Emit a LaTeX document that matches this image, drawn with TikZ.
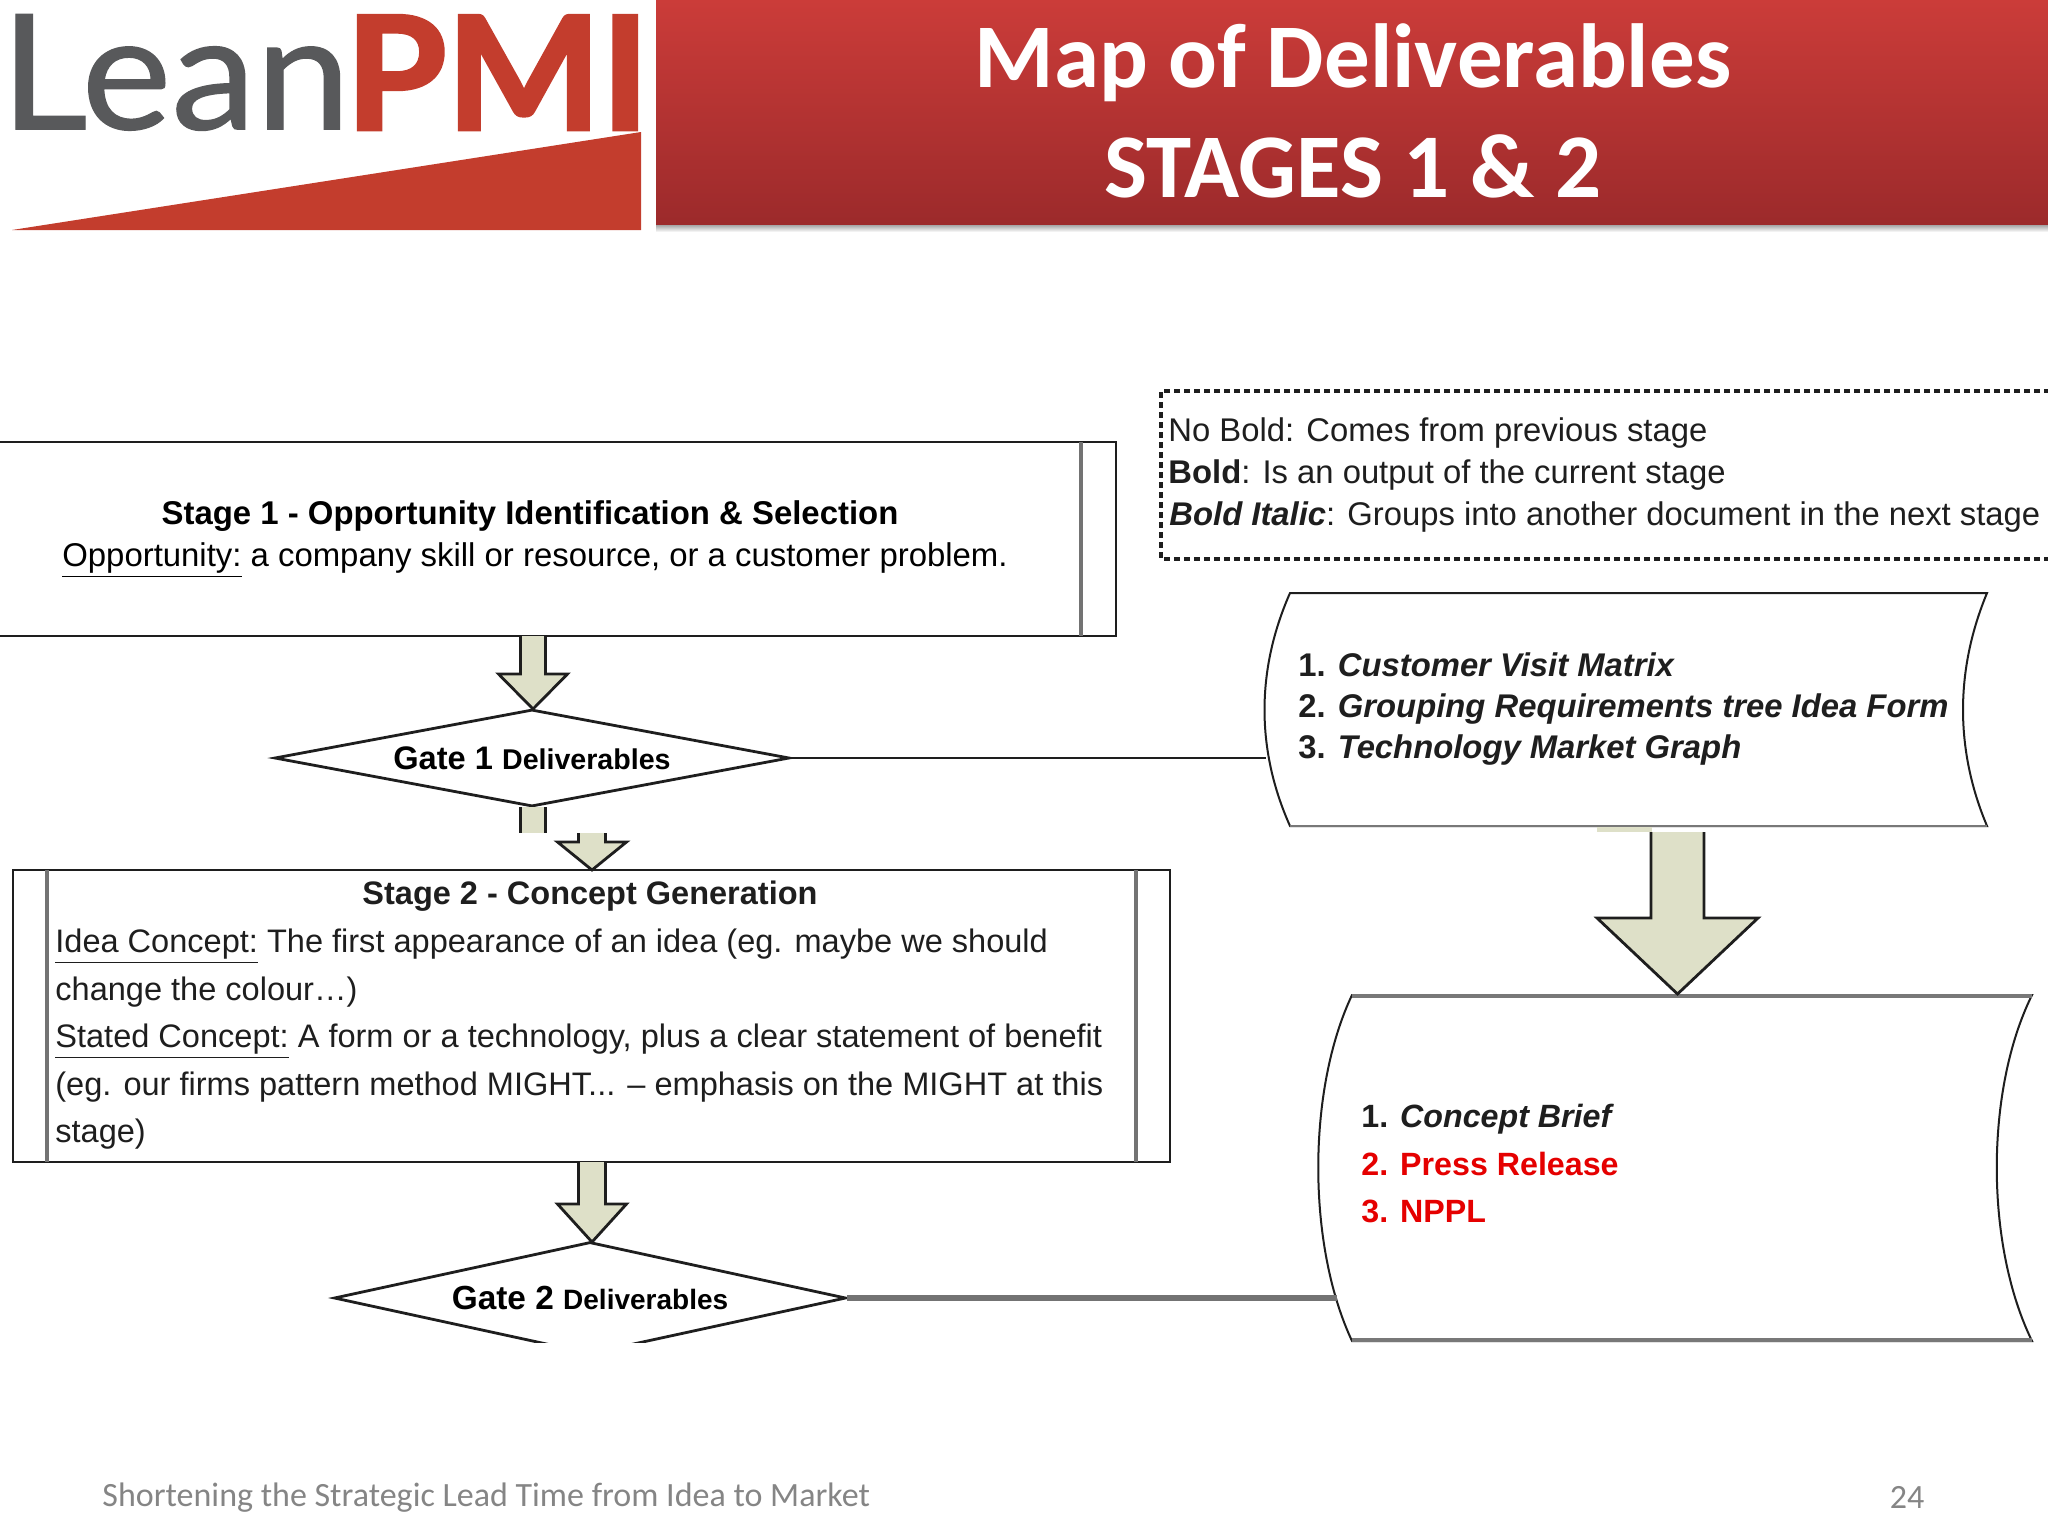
\documentclass[tikz,border=0pt]{standalone}
\usepackage{fontspec}
\setmainfont{Liberation Sans}
\newfontfamily\carlito{Carlito}
\newfontfamily\logofont[FakeBold=0.8]{Lato}
\newfontfamily\logoheavy[BoldFeatures={FakeBold=2.2}]{Lato}
\usetikzlibrary{shapes.geometric}
\definecolor{arrowfill}{HTML}{DEE0C8}
\definecolor{logored}{HTML}{C33D2D}
\definecolor{logogray}{HTML}{58595B}
\definecolor{ink}{HTML}{1E1E1E}
\definecolor{bannertop}{HTML}{CB3C39}
\definecolor{bannerbot}{HTML}{9C2A2B}
\newcommand{\fs}[1]{\fontsize{#1}{#1}\selectfont}
% x-centre, shaft half-width, head half-width, top, head top, tip
\newcommand{\blockarrow}[6]{%
  \draw[blockarrow] (#1-#2,#4) -- (#1-#2,#5) -- (#1-#3,#5) -- (#1,#6) -- (#1+#3,#5) -- (#1+#2,#5) -- (#1+#2,#4);}
\tikzset{
  blockarrow/.style={fill=arrowfill,draw=ink,line width=1.4pt,line join=miter},
  stagebox/.style={draw=ink,line width=1.3pt,rectangle,inner sep=0pt,fill=white},
  bar/.style={draw=black!55,line width=2.2pt},
  gate/.style={draw=ink,diamond,line width=1.4pt,fill=white,inner sep=0pt,aspect=5,font=\bfseries},
  docline/.style={draw=ink,line width=1pt,fill=white},
  txt/.style={inner sep=0pt,text=ink},
  foot/.style={inner sep=0pt,text=black!48,font=\carlito\fs{17}},
}
\begin{document}
\begin{tikzpicture}[x=0.5pt,y=-0.5pt]
\useasboundingbox (0,0) rectangle (2048,1536);
\clip (0,0) rectangle (2048,1536);
% banner
\shade[top color=black!40,bottom color=white] (656,224) rectangle (2048,232);
\shade[top color=bannertop,bottom color=bannerbot] (656,0) rectangle (2048,224);
\node[inner sep=0pt,text=white,font=\carlito\bfseries\fs{45.5},anchor=base] (title1) at (1353,88) {Map of Deliverables};
\node[inner sep=0pt,text=white,font=\carlito\bfseries\fs{45.5},anchor=base] (title2) at (1353,197) {STAGES 1 \& 2};
% logo
\node[inner sep=0pt,anchor=south west,text=logogray] (lean) at (0,131) {\resizebox{175pt}{57.5pt}{\logofont Lean}};
\node[inner sep=0pt,anchor=south west,text=logored] (pmi) at (345,130) {\resizebox{152pt}{57pt}{\logoheavy\bfseries PMI}};
\fill[logored] (12,230) -- (641,132) -- (641,230) -- cycle;
% legend
\draw[ink,line width=1.9pt,densely dashed] (2060,391) -- (1161,391) -- (1161,559) -- (2060,559);
\node[txt,anchor=base west,font=\fs{16.4}] (leg1) at (1168,441) {No Bold: Comes from previous stage};
\node[txt,anchor=base west,font=\fs{16.4}] (leg2) at (1168,483) {\textbf{Bold}: Is an output of the current stage};
\node[txt,anchor=base west,font=\fs{16.4}] (leg3) at (1169,525) {\textbf{\textit{Bold Italic}}: Groups into another document in the next stage};
% stage 1
\node[stagebox,minimum width=586pt,minimum height=97pt,align=center,font=\fs{16.45}] (stage1) at (530,539) {\textbf{Stage 1 - Opportunity Identification \& Selection}\\[5pt]\hspace*{5pt}\underline{Opportunity:} a company skill or resource, or a customer problem.};
\draw[bar] (1081,442) -- (1081,636);
% stage 2
\node[stagebox,minimum width=578.5pt,minimum height=146pt] (stage2) at (591.5,1016) {};
\draw[bar] (47,870) -- (47,1162);
\draw[bar] (1136,870) -- (1136,1162);
\node[txt,font=\bfseries\fs{16.25}] (stage2t) at (590,896) {Stage 2 - Concept Generation};
\node[txt,anchor=north west,align=left,font=\fontsize{16.27}{23.75}\selectfont] (stage2b) at (55,929) {\underline{Idea Concept:} The first appearance of an idea (eg. maybe we should\\change the colour…)\\\underline{Stated Concept:} A form or a technology, plus a clear statement of benefit\\(eg. our firms pattern method MIGHT... – emphasis on the MIGHT at this\\stage)};
% gates
\node[gate,minimum width=257.5pt,minimum height=48.5pt] (gate1) at (532,758) {\fs{16.3}Gate 1 \fs{14.3}Deliverables};
\node[gate,minimum width=256pt,minimum height=56pt] (gate2) at (590,1298) {\fs{16.7}Gate 2 \fs{14}Deliverables};
\fill[white] (300,1343) rectangle (900,1380);
% block arrows
\blockarrow{533}{12.5}{34.5}{636}{674}{709}
\begin{scope}
\clip (400,800) rectangle (700,832);
\blockarrow{533}{12.5}{34.5}{807}{860}{900}
\end{scope}
\begin{scope}
\clip (400,833) rectangle (700,871);
\blockarrow{592}{13.5}{34.5}{800}{842}{870}
\end{scope}
\blockarrow{592}{13.5}{34.5}{1162}{1204}{1242}
% documents
\coordinate (doc1left) at (1266,758);
\draw[docline] (1290,593) -- (1987,593) .. controls (1955,670) and (1955,750) .. (1987,826) -- (1290,826) .. controls (1256,750) and (1256,670) .. (1290,593) -- cycle;
\draw[ink!60,line width=1.2pt] (1290,826) -- (1987,826);
\node[txt,anchor=base west,font=\bfseries\itshape\fs{16.4}] (d1a) at (1298,676) {\upshape 1. \itshape Customer Visit Matrix};
\node[txt,anchor=base west,font=\bfseries\itshape\fs{16.4}] (d1b) at (1298,717) {\upshape 2. \itshape Grouping Requirements tree Idea Form};
\node[txt,anchor=base west,font=\bfseries\itshape\fs{16.4}] (d1c) at (1298,758) {\upshape 3. \itshape Technology Market Graph};
\coordinate (doc2left) at (1337,1298);
\draw[docline] (1352,995) -- (2032,995) .. controls (1985,1090) and (1985,1245) .. (2032,1341) -- (1352,1341) .. controls (1307,1245) and (1307,1090) .. (1352,995) -- cycle;
\draw[ink!60,line width=1.8pt] (1352,996) -- (2032,996) (1352,1340) -- (2032,1340);
\node[txt,anchor=base west,font=\bfseries\fs{16.1}] (d2a) at (1361,1127) {1. \itshape Concept Brief};
\node[txt,anchor=base west,font=\bfseries\fs{16.1},text=red!90!black] (d2b) at (1361,1175) {2. Press Release};
\node[txt,anchor=base west,font=\bfseries\fs{16.1},text=red!90!black] (d2c) at (1361,1222) {3. NPPL};
\fill[arrowfill] (1597,827) rectangle (1652,832);
\begin{scope}
\clip (1500,832) rectangle (1800,996);
\blockarrow{1677.5}{26.5}{80.5}{800}{918}{994}
\end{scope}
% connectors
\draw[ink,line width=1.3pt] (gate1.east) -- (doc1left);
\draw[black!55,line width=2.6pt] (gate2.east) -- (doc2left);
% footer
\node[foot,anchor=west] (footl) at (102,1498) {Shortening the Strategic Lead Time from Idea to Market};
\node[foot,anchor=center] (footr) at (1907,1497) {24};
\end{tikzpicture}
\end{document}
